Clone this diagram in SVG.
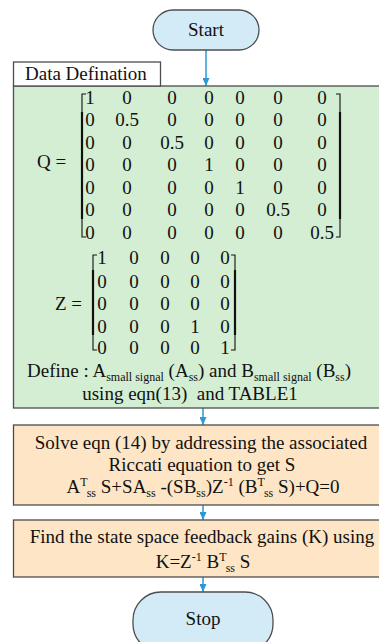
<svg xmlns="http://www.w3.org/2000/svg" width="379" height="642" viewBox="0 0 379 642">
<defs>
<marker id="ah" markerWidth="8" markerHeight="7" refX="8" refY="3.5" orient="auto" markerUnits="userSpaceOnUse">
<path d="M0,0 L8,3.5 L0,7 Z" fill="#2a9ad6"/>
</marker>
<style>
text{font-family:"Liberation Serif","Times New Roman",serif;fill:#111;}
.t{font-size:19px;}
.m{font-size:19px;}
.s{font-size:12px;}
.box{stroke:#4d4d4d;stroke-width:1.3;}
.term{fill:#d3ebf7;stroke:#4d4d4d;stroke-width:1.3;}
.br{fill:none;stroke:#111;stroke-width:1.1;}
.bm{fill:none;stroke:#111;stroke-width:2.2;}
.c{stroke:#2a9ad6;stroke-width:1.5;fill:none;marker-end:url(#ah);}
</style>
</defs>

<g id="connectors">
<line class="c" x1="206" y1="50" x2="206" y2="86"/>
<line class="c" x1="203" y1="408" x2="203" y2="425"/>
<line class="c" x1="203" y1="505" x2="203" y2="520"/>
<line class="c" x1="203" y1="577" x2="203" y2="592"/>
</g>

<g id="start">
<rect class="term" x="153" y="10" width="106" height="40" rx="20"/>
<text class="t" x="206" y="36" text-anchor="middle">Start</text>
</g>

<g id="data">
<rect class="box" x="13.5" y="86" width="380" height="322" fill="#d4eed3"/>
<rect class="box" x="13.5" y="62" width="147" height="24" fill="#ffffff"/>
<text class="t" x="25" y="80">Data Defination</text>

<text class="t" x="37" y="168">Q =</text>
<path class="br" d="M86,94 H82 V237 H86"/>
<path class="bm" d="M82,112 V219"/>
<path class="br" d="M336,94 H340 V237 H336"/>
<path class="bm" d="M340,112 V219"/>
<g class="m" text-anchor="middle">
<text x="90" y="104">1</text><text x="127" y="104">0</text><text x="172" y="104">0</text><text x="209" y="104">0</text><text x="240" y="104">0</text><text x="278" y="104">0</text><text x="322" y="104">0</text>
<text x="90" y="126">0</text><text x="127" y="126">0.5</text><text x="172" y="126">0</text><text x="209" y="126">0</text><text x="240" y="126">0</text><text x="278" y="126">0</text><text x="322" y="126">0</text>
<text x="90" y="149">0</text><text x="127" y="149">0</text><text x="172" y="149">0.5</text><text x="209" y="149">0</text><text x="240" y="149">0</text><text x="278" y="149">0</text><text x="322" y="149">0</text>
<text x="90" y="171">0</text><text x="127" y="171">0</text><text x="172" y="171">0</text><text x="209" y="171">1</text><text x="240" y="171">0</text><text x="278" y="171">0</text><text x="322" y="171">0</text>
<text x="90" y="194">0</text><text x="127" y="194">0</text><text x="172" y="194">0</text><text x="209" y="194">0</text><text x="240" y="194">1</text><text x="278" y="194">0</text><text x="322" y="194">0</text>
<text x="90" y="216">0</text><text x="127" y="216">0</text><text x="172" y="216">0</text><text x="209" y="216">0</text><text x="240" y="216">0</text><text x="278" y="216">0.5</text><text x="322" y="216">0</text>
<text x="90" y="239">0</text><text x="127" y="239">0</text><text x="172" y="239">0</text><text x="209" y="239">0</text><text x="240" y="239">0</text><text x="278" y="239">0</text><text x="322" y="239">0.5</text>
</g>

<text class="t" x="55" y="310">Z =</text>
<path class="br" d="M97,255 H93 V350 H97"/>
<path class="bm" d="M93,270 V335"/>
<path class="br" d="M231,255 H235 V350 H231"/>
<path class="bm" d="M235,270 V335"/>
<g class="m" text-anchor="middle">
<text x="102" y="264">1</text><text x="134" y="264">0</text><text x="165" y="264">0</text><text x="195" y="264">0</text><text x="225" y="264">0</text>
<text x="102" y="288">0</text><text x="134" y="288">0</text><text x="165" y="288">0</text><text x="195" y="288">0</text><text x="225" y="288">0</text>
<text x="102" y="310">0</text><text x="134" y="310">0</text><text x="165" y="310">0</text><text x="195" y="310">0</text><text x="225" y="310">0</text>
<text x="102" y="333">0</text><text x="134" y="333">0</text><text x="165" y="333">0</text><text x="195" y="333">1</text><text x="225" y="333">0</text>
<text x="102" y="354">0</text><text x="134" y="354">0</text><text x="165" y="354">0</text><text x="195" y="354">0</text><text x="225" y="354">1</text>
</g>

<text class="t" x="27" y="377">Define : A<tspan class="s" dy="4">small signal</tspan><tspan dy="-4"> (A</tspan><tspan class="s" dy="4">ss</tspan><tspan dy="-4">) and B</tspan><tspan class="s" dy="4">small signal</tspan><tspan dy="-4">  (B</tspan><tspan class="s" dy="4">ss</tspan><tspan dy="-4">)</tspan></text>
<text class="t" x="190" y="400" text-anchor="middle" xml:space="preserve">using eqn(13)  and TABLE1</text>
</g>

<g id="solve">
<rect class="box" x="13.5" y="425" width="380" height="80" fill="#fde5c6"/>
<text class="t" x="201" y="449" text-anchor="middle">Solve eqn (14) by addressing the associated</text>
<text class="t" x="202" y="471" text-anchor="middle">Riccati equation to get S</text>
<text class="t" x="203" y="493" text-anchor="middle">A<tspan class="s" dy="-7">T</tspan><tspan class="s" dy="11">ss</tspan><tspan dy="-4"> S+SA</tspan><tspan class="s" dy="4">ss</tspan><tspan dy="-4"> -(SB</tspan><tspan class="s" dy="4">ss</tspan><tspan dy="-4">)Z</tspan><tspan class="s" dy="-7">-1</tspan><tspan dy="7"> (B</tspan><tspan class="s" dy="-7">T</tspan><tspan class="s" dy="11">ss</tspan><tspan dy="-4"> S)+Q=0</tspan></text>
</g>

<g id="gains">
<rect class="box" x="13.5" y="520" width="380" height="57" fill="#fde5c6"/>
<text class="t" x="202" y="543" text-anchor="middle">Find the state space feedback gains (K) using</text>
<text class="t" x="203" y="568" text-anchor="middle">K=Z<tspan class="s" dy="-7">-1</tspan><tspan dy="7"> B</tspan><tspan class="s" dy="-7">T</tspan><tspan class="s" dy="11">ss</tspan><tspan dy="-4"> S</tspan></text>
</g>

<g id="stop">
<rect class="term" x="133" y="592" width="140" height="60" rx="28"/>
<text class="t" x="203" y="625" text-anchor="middle">Stop</text>
</g>
</svg>
